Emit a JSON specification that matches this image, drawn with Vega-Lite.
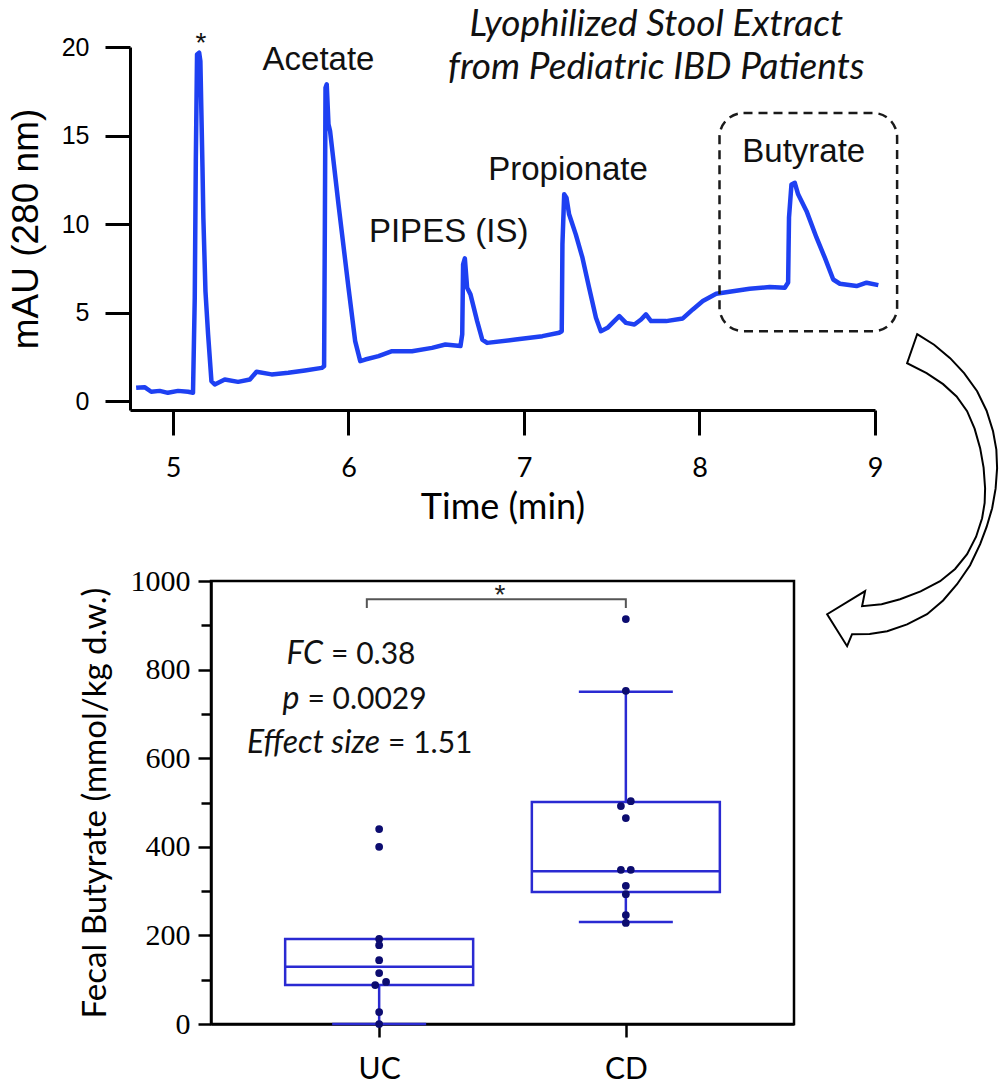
{
  "$schema": "https://vega.github.io/schema/vega-lite/v6.json",
  "background": "white",
  "padding": {"left": 7, "top": 6, "right": 0, "bottom": 0},
  "bounds": "flush",
  "spacing": 171,
  "config": {
    "view": {"stroke": null},
    "axis": {"grid": false, "domainColor": "black", "tickColor": "black", "labelColor": "black", "titleColor": "black", "titleFontWeight": "normal", "labelFontWeight": "normal"}
  },
  "datasets": {
    "trace": [
      {"t": 4.79, "mAU": 0.75}, {"t": 4.838, "mAU": 0.79}, {"t": 4.876, "mAU": 0.53}, {"t": 4.924, "mAU": 0.58},
      {"t": 4.971, "mAU": 0.47}, {"t": 5.029, "mAU": 0.58}, {"t": 5.086, "mAU": 0.53}, {"t": 5.114, "mAU": 0.47},
      {"t": 5.124, "mAU": 5.84}, {"t": 5.13, "mAU": 13.56}, {"t": 5.137, "mAU": 19.58}, {"t": 5.149, "mAU": 19.68},
      {"t": 5.156, "mAU": 19.2}, {"t": 5.162, "mAU": 16.2}, {"t": 5.168, "mAU": 13.2}, {"t": 5.173, "mAU": 10.36},
      {"t": 5.185, "mAU": 6.2}, {"t": 5.2, "mAU": 3.77}, {"t": 5.219, "mAU": 1.13}, {"t": 5.238, "mAU": 0.94},
      {"t": 5.295, "mAU": 1.22}, {"t": 5.371, "mAU": 1.09}, {"t": 5.438, "mAU": 1.22}, {"t": 5.476, "mAU": 1.66},
      {"t": 5.562, "mAU": 1.51}, {"t": 5.657, "mAU": 1.6}, {"t": 5.752, "mAU": 1.73}, {"t": 5.848, "mAU": 1.88},
      {"t": 5.861, "mAU": 1.97}, {"t": 5.865, "mAU": 9.4}, {"t": 5.869, "mAU": 17.7}, {"t": 5.876, "mAU": 17.89},
      {"t": 5.886, "mAU": 15.63}, {"t": 5.895, "mAU": 15.25}, {"t": 5.943, "mAU": 11.11}, {"t": 6.0, "mAU": 6.4},
      {"t": 6.038, "mAU": 3.39}, {"t": 6.067, "mAU": 2.26}, {"t": 6.095, "mAU": 2.35}, {"t": 6.171, "mAU": 2.54},
      {"t": 6.248, "mAU": 2.82}, {"t": 6.362, "mAU": 2.82}, {"t": 6.476, "mAU": 3.01}, {"t": 6.552, "mAU": 3.2},
      {"t": 6.638, "mAU": 3.11}, {"t": 6.648, "mAU": 3.77}, {"t": 6.653, "mAU": 7.72}, {"t": 6.663, "mAU": 8.06},
      {"t": 6.676, "mAU": 6.4}, {"t": 6.695, "mAU": 6.03}, {"t": 6.733, "mAU": 4.52}, {"t": 6.762, "mAU": 3.48},
      {"t": 6.79, "mAU": 3.29}, {"t": 6.952, "mAU": 3.48}, {"t": 7.105, "mAU": 3.67}, {"t": 7.2, "mAU": 3.86},
      {"t": 7.215, "mAU": 3.95}, {"t": 7.219, "mAU": 8.85}, {"t": 7.229, "mAU": 11.68}, {"t": 7.242, "mAU": 11.49},
      {"t": 7.257, "mAU": 10.55}, {"t": 7.295, "mAU": 9.42}, {"t": 7.333, "mAU": 8.1}, {"t": 7.371, "mAU": 6.4},
      {"t": 7.41, "mAU": 4.71}, {"t": 7.438, "mAU": 3.95}, {"t": 7.476, "mAU": 4.14}, {"t": 7.514, "mAU": 4.52},
      {"t": 7.543, "mAU": 4.8}, {"t": 7.581, "mAU": 4.42}, {"t": 7.629, "mAU": 4.33}, {"t": 7.667, "mAU": 4.61},
      {"t": 7.695, "mAU": 4.9}, {"t": 7.724, "mAU": 4.52}, {"t": 7.81, "mAU": 4.52}, {"t": 7.905, "mAU": 4.67},
      {"t": 7.962, "mAU": 5.18}, {"t": 8.019, "mAU": 5.65}, {"t": 8.095, "mAU": 6.06}, {"t": 8.19, "mAU": 6.21},
      {"t": 8.286, "mAU": 6.35}, {"t": 8.4, "mAU": 6.44}, {"t": 8.486, "mAU": 6.4}, {"t": 8.505, "mAU": 6.7},
      {"t": 8.51, "mAU": 10.36}, {"t": 8.524, "mAU": 12.24}, {"t": 8.543, "mAU": 12.33}, {"t": 8.562, "mAU": 11.68},
      {"t": 8.61, "mAU": 10.73}, {"t": 8.667, "mAU": 9.23}, {"t": 8.714, "mAU": 8.1}, {"t": 8.762, "mAU": 6.87},
      {"t": 8.8, "mAU": 6.63}, {"t": 8.895, "mAU": 6.5}, {"t": 8.952, "mAU": 6.69}, {"t": 9.019, "mAU": 6.55}
    ],
    "peaks": [
      {"t": 5.16, "mAU": 19.7, "label": "*", "font": "Liberation Sans", "size": 28},
      {"t": 5.829, "mAU": 18.7, "label": "Acetate", "font": "Lato", "size": 33},
      {"t": 6.571, "mAU": 9.0, "label": "PIPES (IS)", "font": "Lato", "size": 33},
      {"t": 7.251, "mAU": 12.49, "label": "Propionate", "font": "Lato", "size": 33},
      {"t": 8.594, "mAU": 13.52, "label": "Butyrate", "font": "Lato", "size": 33}
    ],
    "heading": [
      {"t": 7.754, "mAU": 20.62, "label": "Lyophilized Stool Extract"},
      {"t": 7.754, "mAU": 18.19, "label": "from Pediatric IBD Patients"}
    ],
    "zoomBox": [{"t1": 8.114, "t2": 9.126, "v1": 16.27, "v2": 3.95}],
    "arrow": [{"t": 9.2, "mAU": -4.69}],
    "boxes": [
      {"g": 1, "q1": 88, "q3": 192, "med": 129},
      {"g": 2, "q1": 298, "q3": 501, "med": 345}
    ],
    "whiskers": [
      {"g": 1, "a": 0, "b": 88},
      {"g": 2, "a": 230, "b": 298},
      {"g": 2, "a": 501, "b": 750}
    ],
    "caps": [
      {"g": 1, "v": 0}, {"g": 2, "v": 230}, {"g": 2, "v": 750}
    ],
    "points": [
      {"g": 1, "v": 440}, {"g": 1, "v": 400}, {"g": 1, "v": 192}, {"g": 1, "v": 178}, {"g": 1, "v": 144},
      {"g": 1, "v": 115}, {"g": 1.028, "v": 95}, {"g": 0.984, "v": 88}, {"g": 1, "v": 27}, {"g": 1, "v": 0},
      {"g": 2, "v": 914}, {"g": 2, "v": 752}, {"g": 2.02, "v": 503}, {"g": 1.98, "v": 492}, {"g": 2, "v": 465},
      {"g": 1.98, "v": 348}, {"g": 2.02, "v": 348}, {"g": 2, "v": 312}, {"g": 2, "v": 293}, {"g": 2, "v": 246},
      {"g": 2, "v": 228}
    ],
    "bracket": [
      {"g": 0.95, "v": 939, "o": 1}, {"g": 0.95, "v": 959, "o": 2}, {"g": 2.0, "v": 959, "o": 3}, {"g": 2.0, "v": 939, "o": 4}
    ],
    "stars": [{"g": 1.49, "v": 948, "label": "*"}],
    "stats": [
      {"g": 0.789, "v": 812.6, "it": "FC", "rest": "= 0.38"},
      {"g": 0.693, "v": 711, "it": "p", "rest": "= 0.0029"},
      {"g": 1.02, "v": 612, "it": "Effect size", "rest": "= 1.51"}
    ]
  },
  "vconcat": [
    {
      "width": 745,
      "height": 363,
      "view": {"stroke": null},
      "encoding": {
        "x": {"type": "quantitative", "scale": {"domain": [4.755, 9], "nice": false, "zero": false}},
        "y": {"type": "quantitative", "scale": {"domain": [-0.5, 20], "nice": false, "zero": false}}
      },
      "layer": [
        {
          "data": {"name": "trace"},
          "mark": {"type": "line", "color": "#1e40f2", "strokeWidth": 4.5, "strokeJoin": "round", "clip": false},
          "encoding": {
            "x": {"field": "t", "type": "quantitative",
              "axis": {"values": [5, 6, 7, 8, 9], "format": "d", "title": "Time (min)", "titleFont": "Lato", "titleFontSize": 36, "titlePadding": 9,
                "labelFont": "Lato", "labelFontSize": 27, "labelPadding": 20, "labelFlush": false, "tickSize": 25, "tickWidth": 3, "domainWidth": 3}},
            "y": {"field": "mAU", "type": "quantitative",
              "axis": {"values": [0, 5, 10, 15, 20], "format": "d", "title": "mAU (280 nm)", "titleFont": "Liberation Sans", "titleFontSize": 37, "titlePadding": 16,
                "labelFont": "Liberation Sans", "labelFontSize": 25, "labelPadding": 16, "tickSize": 25, "tickWidth": 3, "domainWidth": 3}}
          }
        },
        {
          "data": {"name": "zoomBox"},
          "mark": {"type": "rect", "fill": "white", "fillOpacity": 0, "stroke": "#1a1a1a", "strokeWidth": 2.5, "strokeDash": [9, 6], "cornerRadius": 24},
          "encoding": {
            "x": {"field": "t1", "type": "quantitative"}, "x2": {"field": "t2"},
            "y": {"field": "v1", "type": "quantitative"}, "y2": {"field": "v2"}
          }
        },
        {
          "data": {"name": "peaks"},
          "mark": {"type": "text", "align": "center", "baseline": "alphabetic", "color": "#111"},
          "encoding": {
            "x": {"field": "t", "type": "quantitative"},
            "y": {"field": "mAU", "type": "quantitative"},
            "text": {"field": "label"},
            "font": {"field": "font", "type": "nominal", "scale": null, "legend": null},
            "size": {"field": "size", "type": "quantitative", "scale": null, "legend": null}
          }
        },
        {
          "data": {"name": "heading"},
          "mark": {"type": "text", "font": "Lato", "fontStyle": "italic", "fontSize": 37, "align": "center", "baseline": "alphabetic", "color": "#111"},
          "encoding": {
            "x": {"field": "t", "type": "quantitative"},
            "y": {"field": "mAU", "type": "quantitative"},
            "text": {"field": "label"}
          }
        },
        {
          "data": {"name": "arrow"},
          "mark": {"type": "point", "filled": true, "fill": "white", "stroke": "black", "strokeWidth": 2, "opacity": 1, "size": 90000,
            "shape": "M0.047,-1 L0.16,-0.93 L0.267,-0.84 L0.36,-0.74 L0.447,-0.62 L0.51,-0.49 L0.553,-0.353 L0.575,-0.23 L0.58,-0.107 L0.57,0.03 L0.547,0.16 L0.51,0.285 L0.467,0.4 L0.4,0.54 L0.313,0.667 L0.22,0.775 L0.113,0.867 L-0.02,0.935 L-0.153,0.98 L-0.27,0.998 L-0.387,1 L-0.42,1.08 L-0.553,0.867 L-0.3,0.713 L-0.32,0.813 L-0.19,0.8 L-0.067,0.767 L0.07,0.715 L0.2,0.647 L0.3,0.565 L0.38,0.467 L0.44,0.35 L0.48,0.227 L0.497,0.125 L0.5,0.027 L0.49,-0.11 L0.467,-0.24 L0.43,-0.37 L0.38,-0.487 L0.31,-0.585 L0.22,-0.667 L0.11,-0.74 L-0.02,-0.807 Z"},
          "encoding": {
            "x": {"field": "t", "type": "quantitative"},
            "y": {"field": "mAU", "type": "quantitative"}
          }
        }
      ]
    },
    {
      "spacing": 0,
      "bounds": "flush",
      "hconcat": [
        {
          "width": 81,
          "height": 10,
          "view": {"stroke": null},
          "data": {"values": [{"a": 1}]},
          "mark": {"type": "text", "text": " "},
          "encoding": {}
        },
        {
          "width": 583,
          "height": 443,
          "view": {"stroke": "black", "strokeWidth": 2.5},
          "encoding": {
            "x": {"type": "quantitative", "scale": {"domain": [0.3386, 2.6614], "nice": false, "zero": false}},
            "y": {"type": "quantitative", "scale": {"domain": [0, 1000], "nice": false}}
          },
          "layer": [
            {
              "data": {"name": "boxes"},
              "mark": {"type": "bar", "size": 188, "fill": "white", "fillOpacity": 0, "stroke": "#2a2ad2", "strokeWidth": 2.5},
              "encoding": {
                "x": {"field": "g", "type": "quantitative",
                  "axis": {"values": [1, 2], "labelExpr": "datum.value === 1 ? 'UC' : 'CD'", "title": null, "tickSize": 13, "tickWidth": 2.5,
                    "labelFont": "Lato", "labelFontSize": 30, "labelPadding": 17, "labelFlush": false, "domainWidth": 2.5}},
                "y": {"field": "q1", "type": "quantitative",
                  "axis": {"values": [0, 100, 200, 300, 400, 500, 600, 700, 800, 900, 1000], "format": "d",
                    "labelExpr": "datum.value % 200 === 0 ? datum.label : ''",
                    "tickSize": {"condition": {"test": "datum.value % 200 === 0", "value": 13}, "value": 10},
                    "tickWidth": 2.5, "labelFont": "Liberation Serif", "labelFontSize": 30, "labelPadding": 8, "domainWidth": 2.5,
                    "title": "Fecal Butyrate (mmol/kg d.w.)", "titleFont": "Lato", "titleFontSize": 33, "titlePadding": 18}},
                "y2": {"field": "q3"}
              }
            },
            {
              "data": {"name": "boxes"},
              "mark": {"type": "tick", "orient": "horizontal", "size": 188, "thickness": 2.5, "color": "#2a2ad2", "opacity": 1},
              "encoding": {
                "x": {"field": "g", "type": "quantitative"},
                "y": {"field": "med", "type": "quantitative"}
              }
            },
            {
              "data": {"name": "whiskers"},
              "mark": {"type": "rule", "color": "#2a2ad2", "strokeWidth": 2.5},
              "encoding": {
                "x": {"field": "g", "type": "quantitative"},
                "y": {"field": "a", "type": "quantitative"},
                "y2": {"field": "b"}
              }
            },
            {
              "data": {"name": "caps"},
              "mark": {"type": "tick", "orient": "horizontal", "size": 94, "thickness": 2.5, "color": "#2a2ad2", "opacity": 1},
              "encoding": {
                "x": {"field": "g", "type": "quantitative"},
                "y": {"field": "v", "type": "quantitative"}
              }
            },
            {
              "data": {"name": "points"},
              "mark": {"type": "circle", "size": 60, "color": "#0c0c70", "opacity": 1},
              "encoding": {
                "x": {"field": "g", "type": "quantitative"},
                "y": {"field": "v", "type": "quantitative"}
              }
            },
            {
              "data": {"name": "bracket"},
              "mark": {"type": "line", "color": "#555555", "strokeWidth": 2},
              "encoding": {
                "x": {"field": "g", "type": "quantitative"},
                "y": {"field": "v", "type": "quantitative"},
                "order": {"field": "o"}
              }
            },
            {
              "data": {"name": "stars"},
              "mark": {"type": "text", "font": "Liberation Sans", "fontSize": 28, "align": "center", "baseline": "alphabetic", "color": "#222"},
              "encoding": {
                "x": {"field": "g", "type": "quantitative"},
                "y": {"field": "v", "type": "quantitative"},
                "text": {"field": "label"}
              }
            },
            {
              "data": {"name": "stats"},
              "mark": {"type": "text", "font": "Lato", "fontStyle": "italic", "fontSize": 32, "align": "right", "baseline": "alphabetic", "dx": -4, "color": "#111"},
              "encoding": {
                "x": {"field": "g", "type": "quantitative"},
                "y": {"field": "v", "type": "quantitative"},
                "text": {"field": "it"}
              }
            },
            {
              "data": {"name": "stats"},
              "mark": {"type": "text", "font": "Lato", "fontSize": 30, "align": "left", "baseline": "alphabetic", "dx": 4, "color": "#111"},
              "encoding": {
                "x": {"field": "g", "type": "quantitative"},
                "y": {"field": "v", "type": "quantitative"},
                "text": {"field": "rest"}
              }
            }
          ]
        }
      ]
    }
  ]
}
